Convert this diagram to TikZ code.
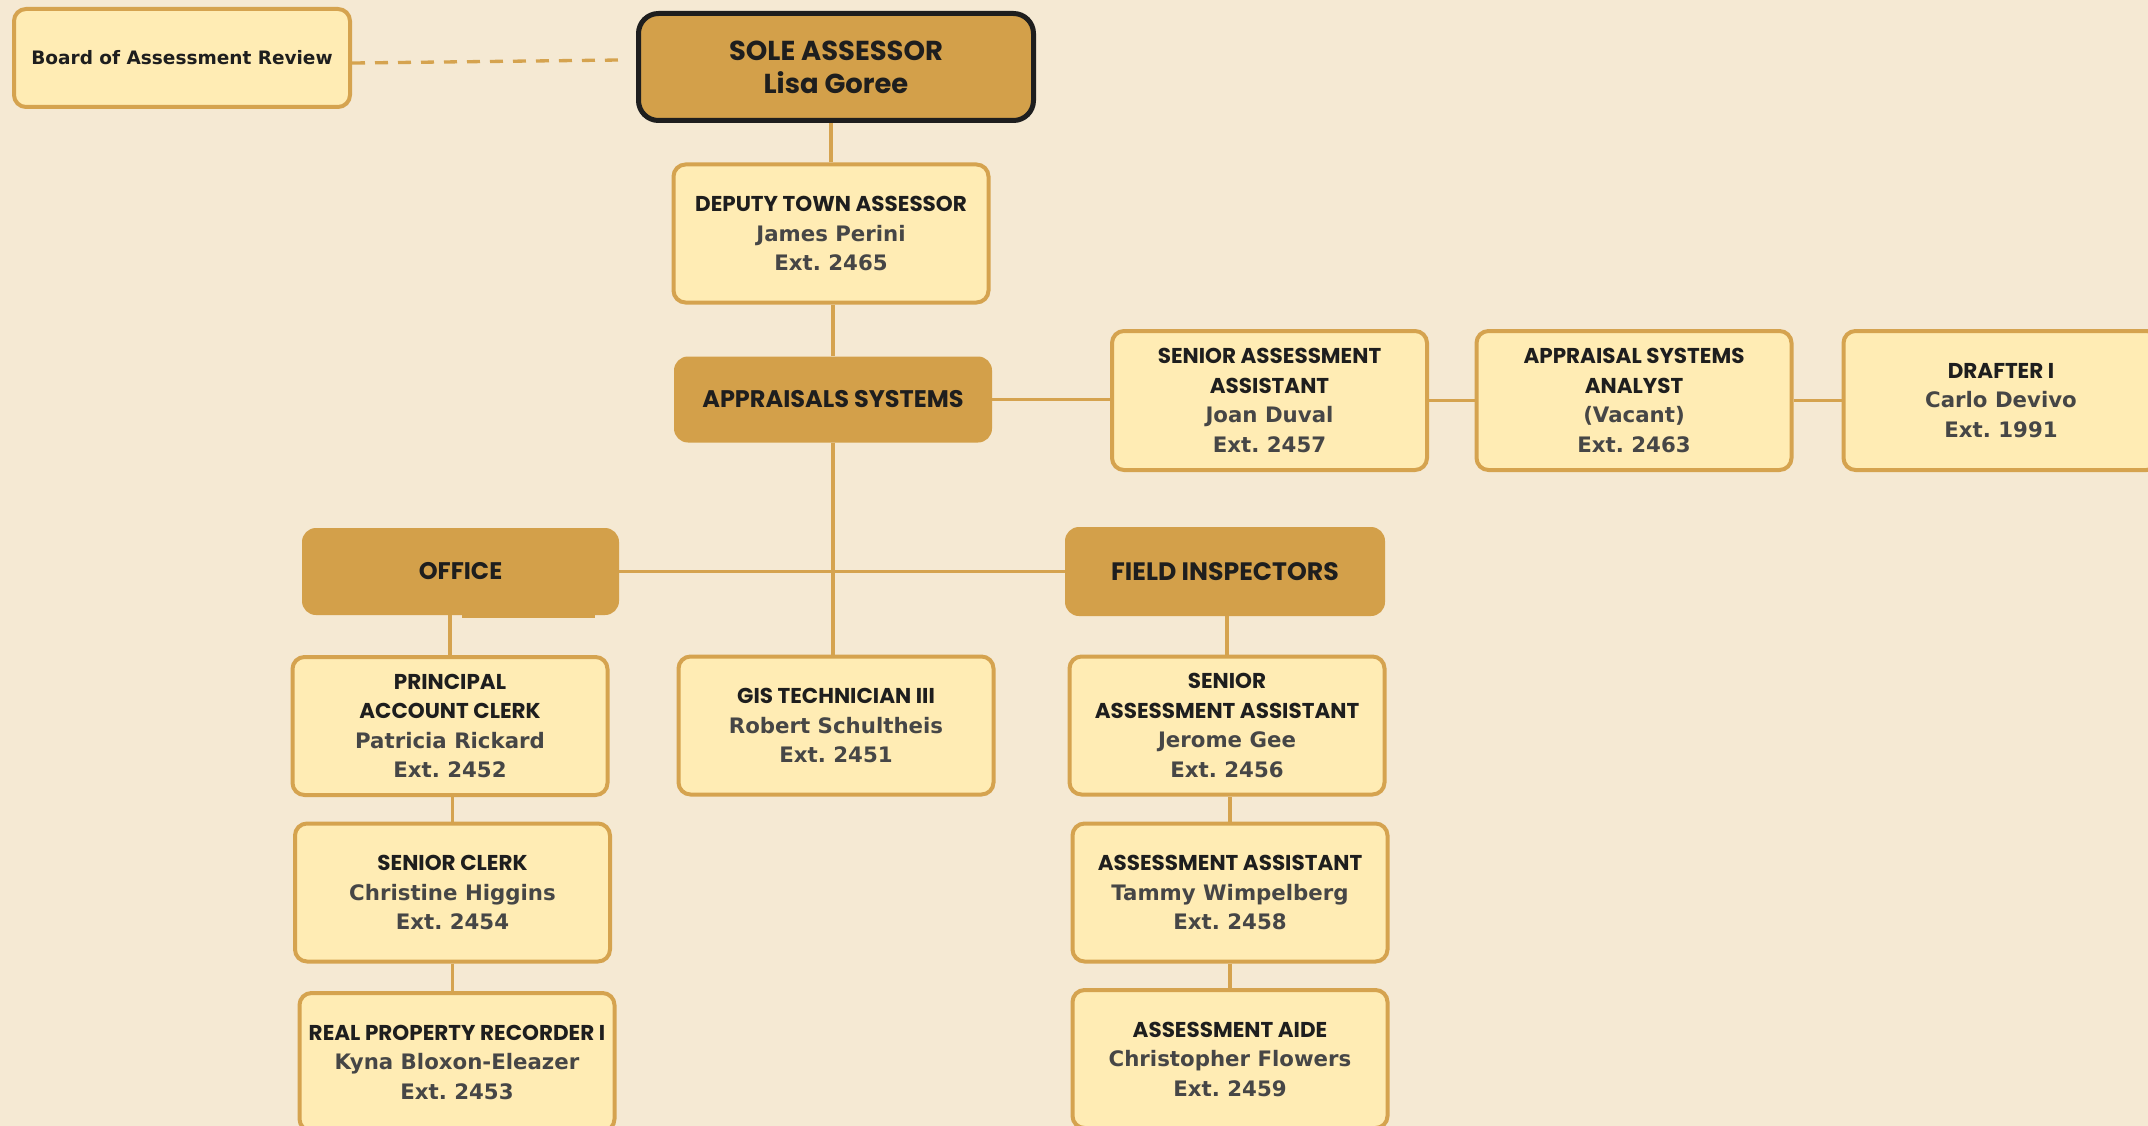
\documentclass[tikz,border=0pt]{standalone}
\usepackage{fontspec}
\setmainfont{DejaVu Sans}
\newfontfamily\ttlf{Poppins}
\newfontfamily\nmf{DejaVu Sans}
\usetikzlibrary{calc}
\definecolor{bg}{RGB}{245,233,211}
\definecolor{lfill}{RGB}{255,236,180}
\definecolor{gold}{RGB}{213,163,79}
\definecolor{dgold}{RGB}{211,160,74}
\definecolor{ink}{RGB}{30,30,30}
\definecolor{nmgrey}{RGB}{70,70,70}
\newcommand{\ttl}[1]{{\fontsize{21.5}{29.5}\selectfont\ttlf\bfseries\color{ink}#1}}
\newcommand{\nm}[1]{{\fontsize{21.3}{29.5}\selectfont\nmf\bfseries\color{nmgrey}#1}}
\newcommand{\dttl}[1]{{\fontsize{24}{29.5}\selectfont\ttlf\bfseries\color{ink}#1}}
\newcommand{\fttl}[1]{{\fontsize{25.2}{29.5}\selectfont\ttlf\bfseries\color{ink}#1}}
\newcommand{\sttl}[1]{{\fontsize{27.4}{33}\selectfont\ttlf\bfseries\color{ink}#1}}
\frenchspacing
\begin{document}
\begin{tikzpicture}[x=1pt,y=-1pt,
 lbox/.style={draw=gold, line width=4pt, fill=lfill, rounded corners=12pt, align=center, inner sep=0pt, minimum width=315pt, minimum height=138pt, font=\fontsize{21}{29.5}\selectfont},
 dbox/.style={fill=dgold, rounded corners=14pt, align=center, inner sep=0pt, minimum width=318pt, minimum height=86pt, font=\fontsize{24}{29.5}\selectfont},
 link/.style={draw=gold, line width=3.7pt}]
\useasboundingbox (0,0) rectangle (2148,1126);
\fill[bg] (0,0) rectangle (2148,1126);
\clip (0,0) rectangle (2148,1126);

% top
\node[lbox, minimum width=336pt, minimum height=98pt] (board) at (182,58)
  {{\fontsize{18.5}{24}\selectfont\nmf\bfseries\color{ink}Board of Assessment Review}};
\node[fill=dgold, draw=ink, line width=5pt, rounded corners=20pt, align=center, inner sep=0pt,
  minimum width=395pt, minimum height=107pt, font=\fontsize{27.4}{33}\selectfont] (sole) at (836,67)
  {\sttl{SOLE ASSESSOR}\\\sttl{Lisa Goree}};
\node[lbox] (deputy) at (831,233.5) {\ttl{DEPUTY TOWN ASSESSOR}\\\nm{James Perini}\\\nm{Ext. 2465}};
\node[dbox] (appr) at (833,399.5) {\dttl{APPRAISALS SYSTEMS}};

% right row
\node[lbox, minimum height=139pt] (saa1) at (1269.5,400.5) {\ttl{SENIOR ASSESSMENT}\\\ttl{ASSISTANT}\\\nm{Joan Duval}\\\nm{Ext. 2457}};
\node[lbox, minimum height=139pt] (analyst) at (1634,400.5) {\ttl{APPRAISAL SYSTEMS}\\\ttl{ANALYST}\\\nm{(Vacant)}\\\nm{Ext. 2463}};
\node[lbox, minimum height=139pt] (drafter) at (2001,400.5) {\ttl{DRAFTER I}\\\nm{Carlo Devivo}\\\nm{Ext. 1991}};

% departments
\node[dbox, minimum width=317pt, minimum height=87pt] (office) at (460.5,571.5) {\dttl{OFFICE}};
\fill[dgold] (462,605) rectangle (595,618);
\node[dbox, minimum width=320pt, minimum height=89pt] (field) at (1225,571.5) {\fttl{FIELD INSPECTORS}};

% second tier
\node[lbox] (principal) at (450,726) {\ttl{PRINCIPAL}\\\ttl{ACCOUNT CLERK}\\\nm{Patricia Rickard}\\\nm{Ext. 2452}};
\node[lbox] (gis) at (836,725.5) {\ttl{GIS TECHNICIAN III}\\\nm{Robert Schultheis}\\\nm{Ext. 2451}};
\node[lbox] (saa2) at (1227,725.5) {\ttl{SENIOR}\\\ttl{ASSESSMENT ASSISTANT}\\\nm{Jerome Gee}\\\nm{Ext. 2456}};

% third tier
\node[lbox] (sclerk) at (452.5,892.5) {\ttl{SENIOR CLERK}\\\nm{Christine Higgins}\\\nm{Ext. 2454}};
\node[lbox] (aa) at (1230,892.5) {\ttl{ASSESSMENT ASSISTANT}\\\nm{Tammy Wimpelberg}\\\nm{Ext. 2458}};

% fourth tier
\node[lbox] (rpr) at (457,1062) {\ttl{REAL PROPERTY RECORDER I}\\\nm{Kyna Bloxon-Eleazer}\\\nm{Ext. 2453}};
\node[lbox] (aide) at (1230,1059) {\ttl{ASSESSMENT AIDE}\\\nm{Christopher Flowers}\\\nm{Ext. 2459}};

% connectors
\coordinate (dashend) at (621,60);
\draw[link, line width=3.3pt, dash pattern=on 13pt off 10pt] ([yshift=-5pt]board.east) -- (dashend);
\draw[link] (deputy.north) -- (deputy.north |- sole.south);
\draw[link] (appr.north) -- (appr.north |- deputy.south);
\draw[link] (appr.south) -- (appr.south |- gis.north);
\draw[link] (appr.east) -- (appr.east -| saa1.west);
\draw[link] (saa1.east) -- (saa1.east -| analyst.west);
\draw[link] (analyst.east) -- (analyst.east -| drafter.west);
\draw[link] (office.east) -- (office.east -| field.west);
\draw[link] (principal.north) -- (principal.north |- office.south);
\draw[link] (sclerk.north) -- (sclerk.north |- principal.south);
\draw[link] (sclerk.south) -- (sclerk.south |- rpr.north);
\draw[link] (saa2.north) -- (saa2.north |- field.south);
\draw[link] (aa.north) -- (aa.north |- saa2.south);
\draw[link] (aa.south) -- (aa.south |- aide.north);
\end{tikzpicture}
\end{document}
